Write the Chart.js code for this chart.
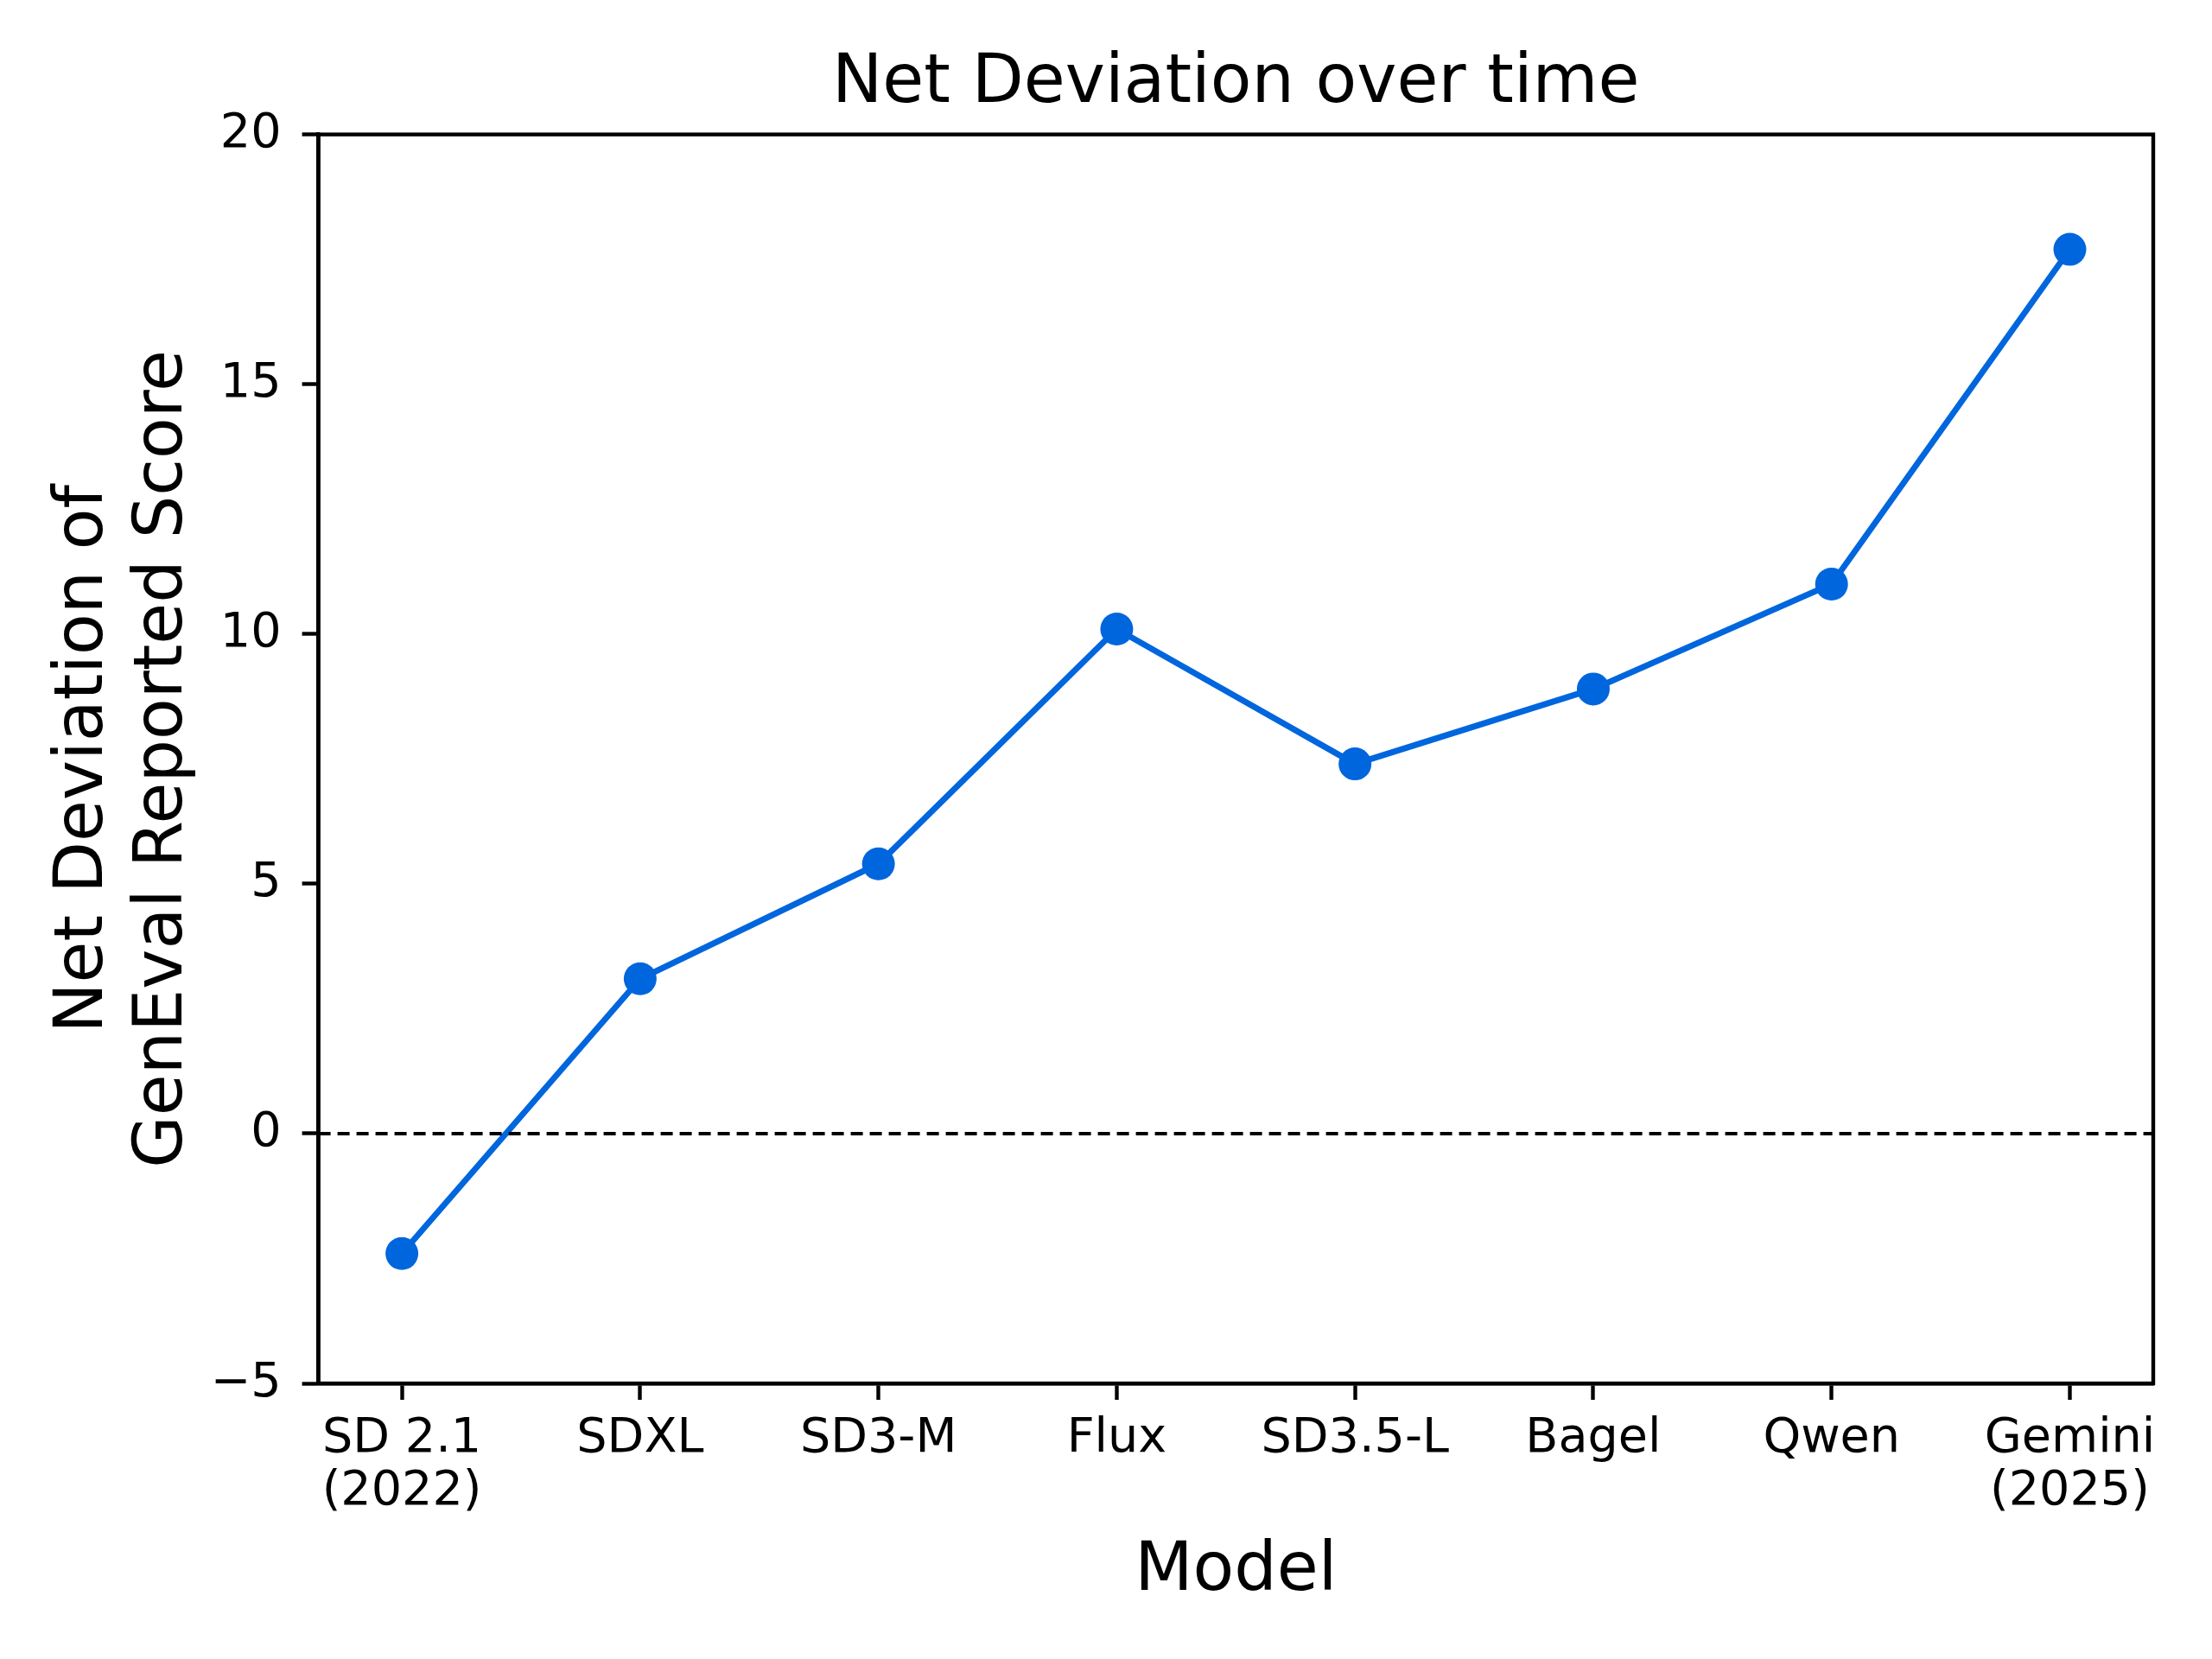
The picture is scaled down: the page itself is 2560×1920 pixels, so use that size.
<!DOCTYPE html>
<html>
<head>
<meta charset="utf-8">
<script src="https://cdn.jsdelivr.net/npm/chart.js@4.4.1/dist/chart.umd.min.js"></script>
<style>
  html, body { margin: 0; padding: 0; background: #fff; }
  canvas { display: block; }
</style>
</head>
<body>
<canvas id="chart" width="2560" height="1920"></canvas>
<script>
// values
const models = [['SD 2.1', '(2022)'], 'SDXL', 'SD3-M', 'Flux', 'SD3.5-L', 'Bagel', 'Qwen', ['Gemini', '(2025)']];
const netDeviation = [-2.4, 3.1, 5.4, 10.1, 7.4, 8.9, 11.0, 17.7];
const yTicks = [-5, 0, 5, 10, 15, 20];

const BLUE = '#0066dd';
const FONT = "'DejaVu Sans', sans-serif";

// matplotlib style: title centred on the axes, zero reference line, closed box
const framePlugin = {
  id: 'frame',
  afterLayout(chart) {
    if (chart.titleBlock) {
      chart.titleBlock.left = chart.chartArea.left;
      chart.titleBlock.right = chart.chartArea.right;
    }
  },
  afterDatasetsDraw(chart) {
    const { ctx, chartArea: a, scales } = chart;
    const y0 = scales.y.getPixelForValue(0);
    ctx.save();
    ctx.strokeStyle = '#000';
    ctx.lineWidth = 4;
    ctx.setLineDash([14, 8]);
    ctx.beginPath();
    ctx.moveTo(a.left, y0);
    ctx.lineTo(a.right, y0);
    ctx.stroke();
    ctx.setLineDash([]);
    ctx.lineWidth = 4.4;
    ctx.strokeRect(a.left, a.top, a.right - a.left, a.bottom - a.top);
    ctx.restore();
  }
};

const ctx = document.getElementById('chart');

const data = {
  datasets: [
    {
      label: 'Net Deviation',
      data: netDeviation.map((v, i) => ({ x: i, y: v })),
      borderColor: BLUE,
      backgroundColor: BLUE,
      borderWidth: 7,
      pointRadius: 19,
      pointBorderWidth: 0,
      pointBackgroundColor: BLUE,
      tension: 0,
      fill: false
    }
  ]
};

const config = {
  type: 'line',
  data: data,
  options: {
    responsive: false,
    devicePixelRatio: 1,
    animation: false,
    layout: { padding: { left: 51, right: 68, top: 51, bottom: 53 } },
    plugins: {
      legend: { display: false },
      tooltip: { enabled: false },
      title: {
        display: true,
        text: 'Net Deviation over time',
        color: '#000',
        font: { family: FONT, size: 78, weight: 'normal', lineHeight: 1.2 },
        padding: { top: 0, bottom: 11 }
      }
    },
    scales: {
      x: {
        type: 'linear',
        min: -0.35,
        max: models.length - 1 + 0.35,
        afterBuildTicks: (scale) => {
          scale.ticks = models.map((m, i) => ({ value: i }));
        },
        ticks: {
          color: '#000',
          font: { family: FONT, size: 55.6, lineHeight: 1.1 },
          padding: 15,
          maxRotation: 0,
          autoSkip: false,
          callback: (v) => models[v]
        },
        grid: {
          display: true,
          drawOnChartArea: false,
          drawTicks: true,
          tickLength: 19,
          tickWidth: 4.4,
          tickColor: '#000'
        },
        border: { display: true, color: '#000', width: 4.4 },
        title: {
          display: true,
          text: 'Model',
          color: '#000',
          font: { family: FONT, size: 78, lineHeight: 1.2 },
          padding: { top: 1, bottom: 0 }
        }
      },
      y: {
        min: -5,
        max: 20,
        afterBuildTicks: (scale) => {
          scale.ticks = yTicks.map(v => ({ value: v }));
        },
        ticks: {
          color: '#000',
          font: { family: FONT, size: 55.6 },
          padding: 24,
          callback: (v) => String(v).replace('-', '\u2212')
        },
        grid: {
          display: true,
          drawOnChartArea: false,
          drawTicks: true,
          tickLength: 19,
          tickWidth: 4.4,
          tickColor: '#000'
        },
        border: { display: true, color: '#000', width: 4.4 },
        title: {
          display: true,
          text: ['Net Deviation of', 'GenEval Reported Score'],
          color: '#000',
          font: { family: FONT, size: 78, lineHeight: 1.19 },
          padding: { top: 0, bottom: -17 }
        }
      }
    }
  },
  plugins: [framePlugin]
};

const myChart = new Chart(ctx, config);
</script>
</body>
</html>
